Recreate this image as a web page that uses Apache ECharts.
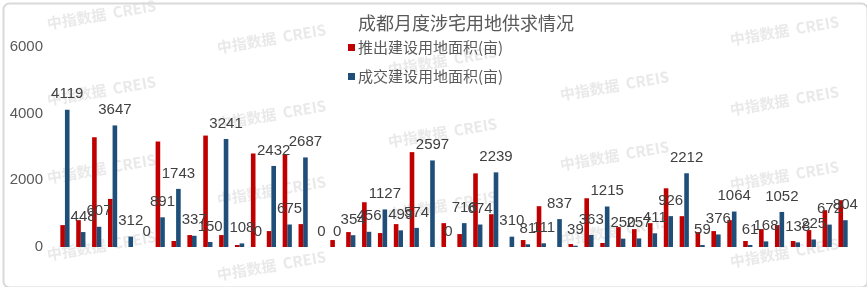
<!DOCTYPE html>
<html>
<head>
<meta charset="utf-8">
<script src="https://cdn.jsdelivr.net/npm/echarts@6/dist/echarts.min.js"></script>
<style>html,body{margin:0;padding:0;background:#fff;}#c{width:867px;height:287px;}</style>
</head>
<body>
<div id="c"></div>
<script>
var months = ['2019-01','2019-02','2019-03','2019-04','2019-05','2019-06','2019-07','2019-08','2019-09','2019-10','2019-11','2019-12',
'2020-01','2020-02','2020-03','2020-04','2020-05','2020-06','2020-07','2020-08','2020-09','2020-10','2020-11','2020-12',
'2021-01','2021-02','2021-03','2021-04','2021-05','2021-06','2021-07','2021-08','2021-09','2021-10','2021-11','2021-12',
'2022-01','2022-02','2022-03','2022-04','2022-05','2022-06','2022-07','2022-08','2022-09','2022-10','2022-11','2022-12',
'2023-01','2023-02'];
var supplyArea = [657, 806, 3293, 1443, 0, 0, 3165, 180, 358, 3343, 358, 60, 2806, 478, 2785, 687, 0, 209, 448, 1343, 418, 687, 2846, 0, 716, 388, 2209, 985, 0, 209, 1224, 0, 90, 1463, 120, 597, 537, 716, 1761, 925, 448, 478, 806, 180, 537, 657, 180, 507, 1105, 1403];
var dealArea = [4119, 448, 607, 3647, 312, 0, 891, 1743, 337, 150, 3241, 108, 0, 2432, 675, 2687, 0, 0, 354, 456, 1127, 499, 574, 2597, 0, 716, 674, 2239, 310, 81, 111, 837, 39, 363, 1215, 250, 257, 411, 926, 2212, 59, 376, 1064, 61, 168, 1052, 138, 225, 672, 804];
var yTicks = [0, 2000, 4000, 6000];
var seriesNames = ['推出建设用地面积(亩)', '成交建设用地面积(亩)'];
var titleText = '成都月度涉宅用地供求情况';
var wmText = '中指数据  CREIS';

var wmPos = [[47,24],[217,48],[47,100],[217,124],[388,142],[47,178],[217,200],[388,215],[47,255],[217,275],[560,95],[560,165],[730,40],[730,110],[730,185],[730,262],[388,70],[560,240]];
var graphics = [{
  type:'rect', left:1, top:1, z:100,
  shape:{width:864, height:284, r:6},
  style:{fill:'none', stroke:'#d9d9d9', lineWidth:2}
}];
wmPos.forEach(function(p){
  graphics.push({type:'text', x:p[0], y:p[1], rotation:0.17, z:-1, silent:true,
    style:{text:wmText, fill:'rgba(200,200,200,0.4)', font:'bold 15px "Noto Sans CJK SC", sans-serif', textVerticalAlign:'middle'}});
});

var chart = echarts.init(document.getElementById('c'));
chart.setOption({
  animation:false,
  backgroundColor:'#fff',
  title:{text:titleText, left:353, top:9, textStyle:{fontSize:18, fontWeight:'normal', color:'#595959', fontFamily:'"Noto Sans CJK SC", sans-serif'}},
  legend:{orient:'vertical', left:343, top:35, itemWidth:7, itemHeight:7, itemGap:14, icon:'rect',
    data:seriesNames,
    textStyle:{fontSize:15, color:'#595959', fontFamily:'"Noto Sans CJK SC", sans-serif', padding:[0,0,0,-2]}},
  graphic:graphics,
  grid:{left:57, right:16, top:47, bottom:40},
  xAxis:{type:'category', data:months, axisLine:{show:false}, axisTick:{show:false}, axisLabel:{show:false}},
  yAxis:{type:'value', min:yTicks[0], max:yTicks[yTicks.length-1], interval:2000,
    splitLine:{show:false}, axisLine:{show:false}, axisTick:{show:false},
    axisLabel:{fontSize:15, color:'#595959', margin:14, fontFamily:'"Liberation Sans", Arial, sans-serif',
      formatter:function(v){return String(v);}}},
  series:[
    {name:seriesNames[0], type:'bar', data:supplyArea, barWidth:'29%', barGap:'0%', itemStyle:{color:'#C00000'}},
    {name:seriesNames[1], type:'bar', data:dealArea, barWidth:'29%', barGap:'0%', itemStyle:{color:'#1F4E79'},
      label:{show:true, position:'top', distance:8, fontSize:15, color:'#404040', fontFamily:'"Liberation Sans", Arial, sans-serif'}}
  ]
});
</script>
</body>
</html>
